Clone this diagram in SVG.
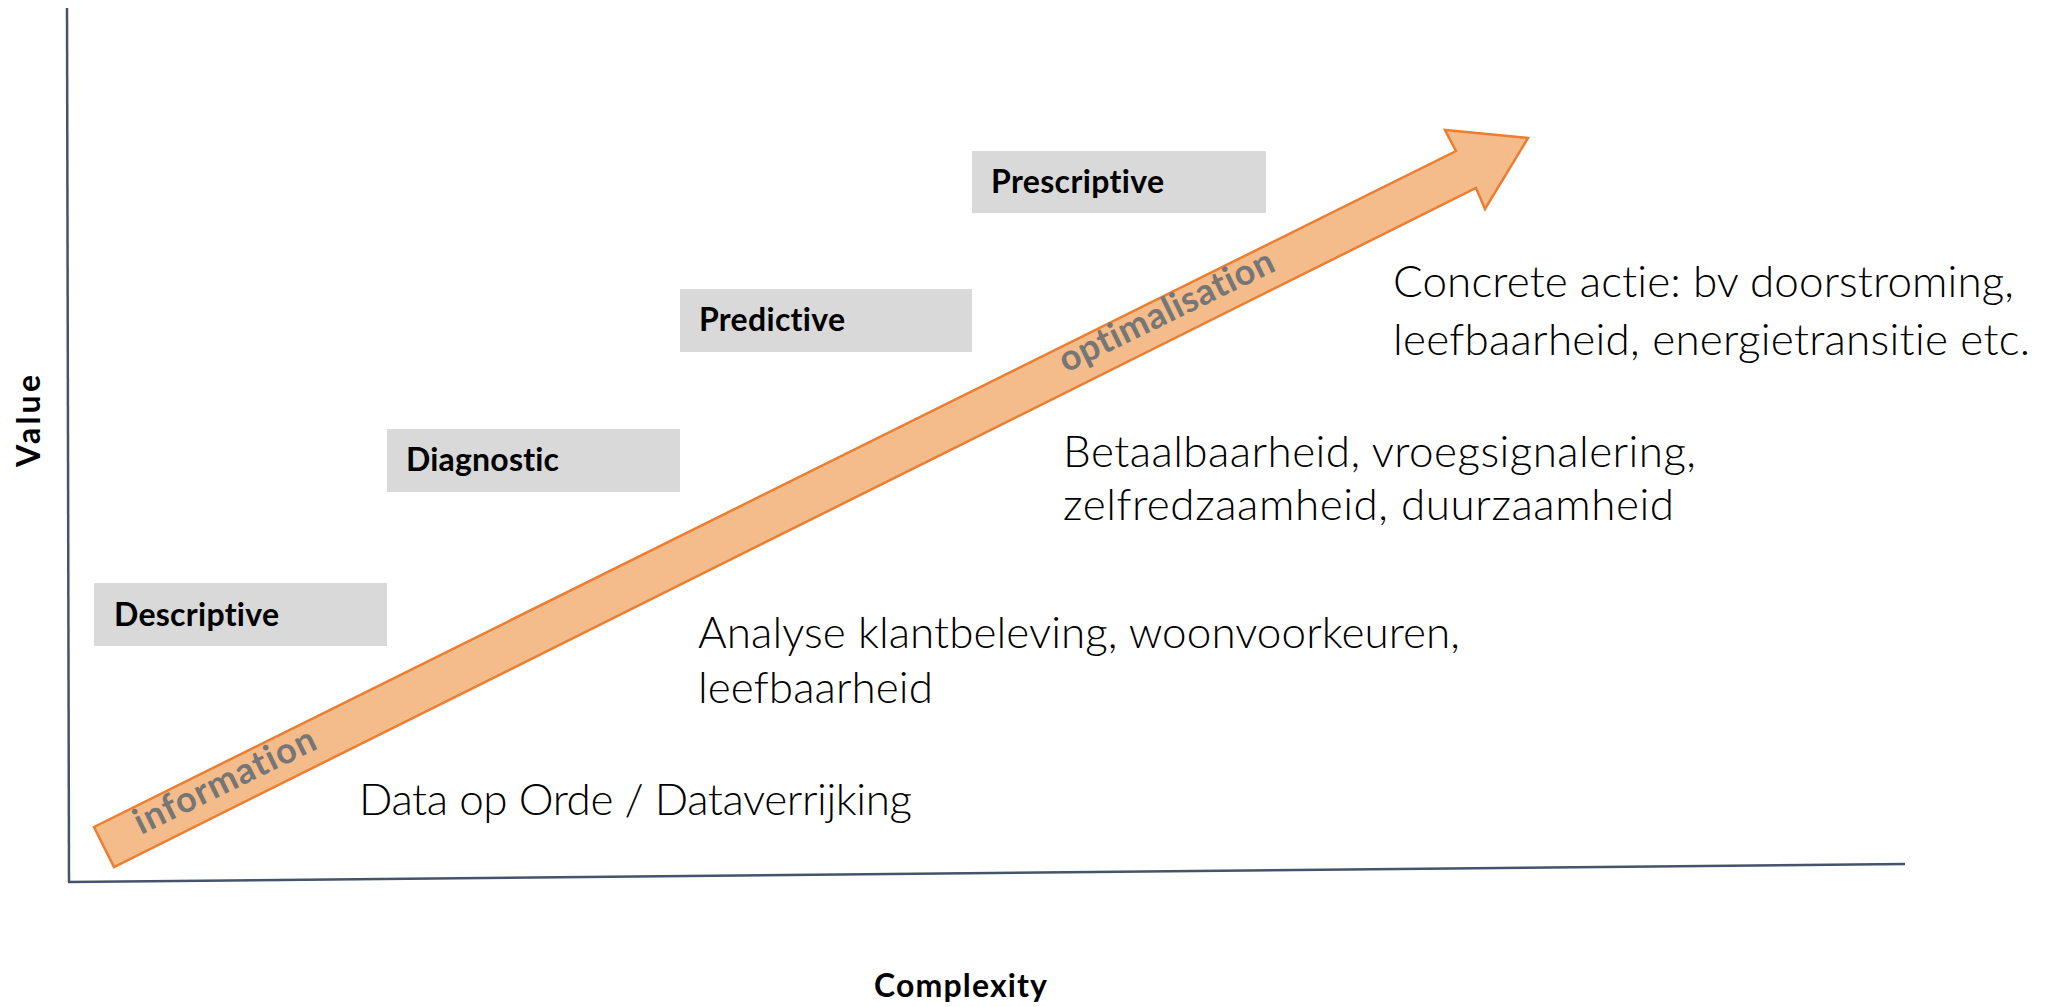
<svg xmlns="http://www.w3.org/2000/svg" width="2046" height="1007" viewBox="0 0 2046 1007">
<style>
text{font-variant-ligatures:none;font-feature-settings:"liga" 0,"clig" 0,"dlig" 0;}
.box{fill:#D9D9D9;}
.lbl{font-family:"Lato","Liberation Sans",sans-serif;font-weight:700;font-size:32px;fill:#000;}
.ax{font-family:"Lato","Liberation Sans",sans-serif;font-weight:700;font-size:32px;fill:#000;}
.light{font-family:"Lato","Liberation Sans",sans-serif;font-weight:300;font-size:44px;fill:#000;}
.flow{font-family:"Lato","Liberation Sans",sans-serif;font-weight:700;font-size:36px;fill:#767676;}
.axis{stroke:#44546A;stroke-width:2.5;fill:none;}
</style>
<rect width="2046" height="1007" fill="#FFFFFF"/>
<g id="axes">
<line class="axis" x1="67" y1="8" x2="69" y2="882"/>
<line class="axis" x1="68" y1="882" x2="1905" y2="864"/>
<text class="ax" transform="translate(40,467) rotate(-90)" textLength="92">Value</text>
<text class="ax" x="874" y="997" textLength="173">Complexity</text>
</g>
<g id="connectors">
<polygon points="94,827 1456,151 1445,130 1528,138 1485,209 1476,188 114,867" fill="#F4BC8A" stroke="#ED7D31" stroke-width="2.5" stroke-linejoin="miter"/>
<text class="flow" transform="translate(141,835) rotate(-26)" textLength="198">information</text>
<text class="flow" transform="translate(1066,373) rotate(-26)" textLength="235">optimalisation</text>
</g>
<g id="descriptive">
<rect class="box" x="94" y="583" width="293" height="63"/>
<text class="lbl" x="114" y="626" textLength="165">Descriptive</text>
</g>
<g id="diagnostic">
<rect class="box" x="387" y="429" width="293" height="63"/>
<text class="lbl" x="406" y="471" textLength="153">Diagnostic</text>
</g>
<g id="predictive">
<rect class="box" x="680" y="289" width="292" height="63"/>
<text class="lbl" x="699" y="331" textLength="146">Predictive</text>
</g>
<g id="prescriptive">
<rect class="box" x="972" y="151" width="294" height="62"/>
<text class="lbl" x="991" y="193" textLength="173">Prescriptive</text>
</g>
<g id="data-op-orde">
<text class="light" x="359" y="815" textLength="553">Data op Orde / Dataverrijking</text>
</g>
<g id="analyse">
<text class="light" x="698" y="648" textLength="762">Analyse klantbeleving, woonvoorkeuren,</text>
<text class="light" x="698" y="703" textLength="235">leefbaarheid</text>
</g>
<g id="betaalbaarheid">
<text class="light" x="1063" y="467" textLength="633">Betaalbaarheid, vroegsignalering,</text>
<text class="light" x="1063" y="520" textLength="611">zelfredzaamheid, duurzaamheid</text>
</g>
<g id="concrete-actie">
<text class="light" x="1393" y="297" textLength="621">Concrete actie: bv doorstroming,</text>
<text class="light" x="1393" y="355" textLength="637">leefbaarheid, energietransitie etc.</text>
</g>
</svg>
